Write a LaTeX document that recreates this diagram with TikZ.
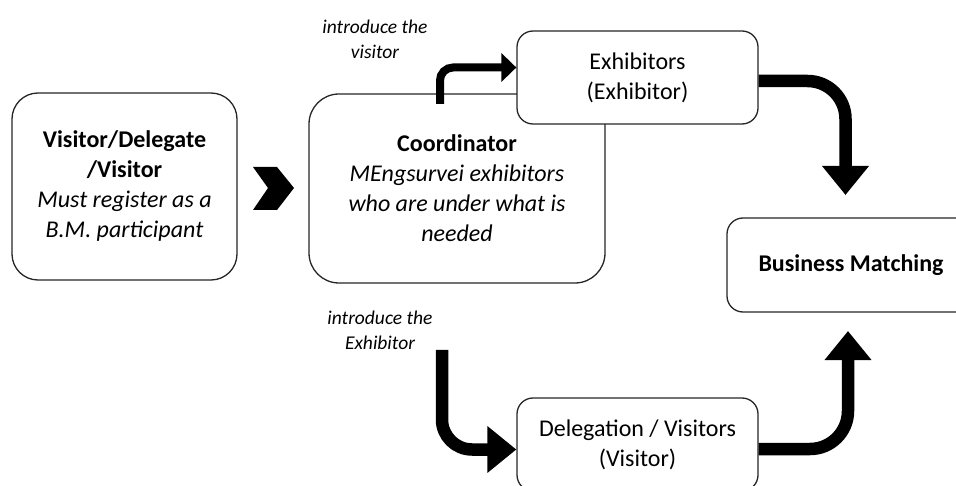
\documentclass[tikz,border=0pt]{standalone}
\usepackage{fontspec}
\setmainfont{Carlito}
\usetikzlibrary{arrows.meta}
\begin{document}
\begin{tikzpicture}[x=1pt,y=-1pt,
  box/.style={draw=black!85,line width=1.3pt,fill=white,rounded corners=#1,inner sep=0pt,
    align=center,font=\fontsize{24}{30}\selectfont},
  box/.default=16pt,
  lbl/.style={align=center,font=\fontsize{19.5}{25}\selectfont\itshape,inner sep=0pt},
  bigarrow/.style={line width=12.5pt,rounded corners=38pt,
    -{Triangle[length=29pt,width=45pt]}},
  thinarrow/.style={line width=8pt,rounded corners=13pt,
    -{Triangle[length=15pt,width=28pt]}}]
\useasboundingbox (0,0) rectangle (956,486);
\clip (0,0) rectangle (956,486);
% boxes
\node[box=26pt,minimum width=225pt,minimum height=187pt] (vis) at (124.5,186.5)
  {\textbf{Visitor/Delegate}\\\textbf{/Visitor}\\\textit{Must register as a}\\\textit{B.M. participant}};
\node[box=30pt,minimum width=296pt,minimum height=189pt] (coord) at (457,188.5)
  {\textbf{Coordinator}\\\textit{MEngsurvei exhibitors}\\\textit{who are under what is}\\\textit{needed}};
\node[box=16pt,minimum width=241pt,minimum height=93pt] (exh) at (637.5,77.5)
  {Exhibitors\\(Exhibitor)};
\node[box=16pt,minimum width=248pt,minimum height=94pt] (bm) at (851,265)
  {\textbf{Business Matching}};
\node[box=16pt,minimum width=241pt,minimum height=93pt] (del) at (637.5,444.5)
  {Delegation / Visitors\\(Visitor)};
% chevron
\fill[black] (253,167) -- (277,167) -- (294,188) -- (277,210) -- (253,210) -- (268,188) -- cycle;
% labels
\node[lbl] (l1) at (375,39.5) {introduce the\\visitor};
\node[lbl] (l2) at (380,330.5) {introduce the\\Exhibitor};
% connectors
\coordinate (s1) at (440,104);
\draw[thinarrow] (s1) |- (exh.west |- 0,67.5);
\draw[bigarrow] (exh.east |- 0,81) -| (845.5,195);
\coordinate (s3) at (442,350);
\draw[bigarrow,rounded corners=30pt] (s3) |- (del.west |- 0,449.5);
\draw[bigarrow] (del.east |- 0,449) -| (848,331);
\end{tikzpicture}
\end{document}
